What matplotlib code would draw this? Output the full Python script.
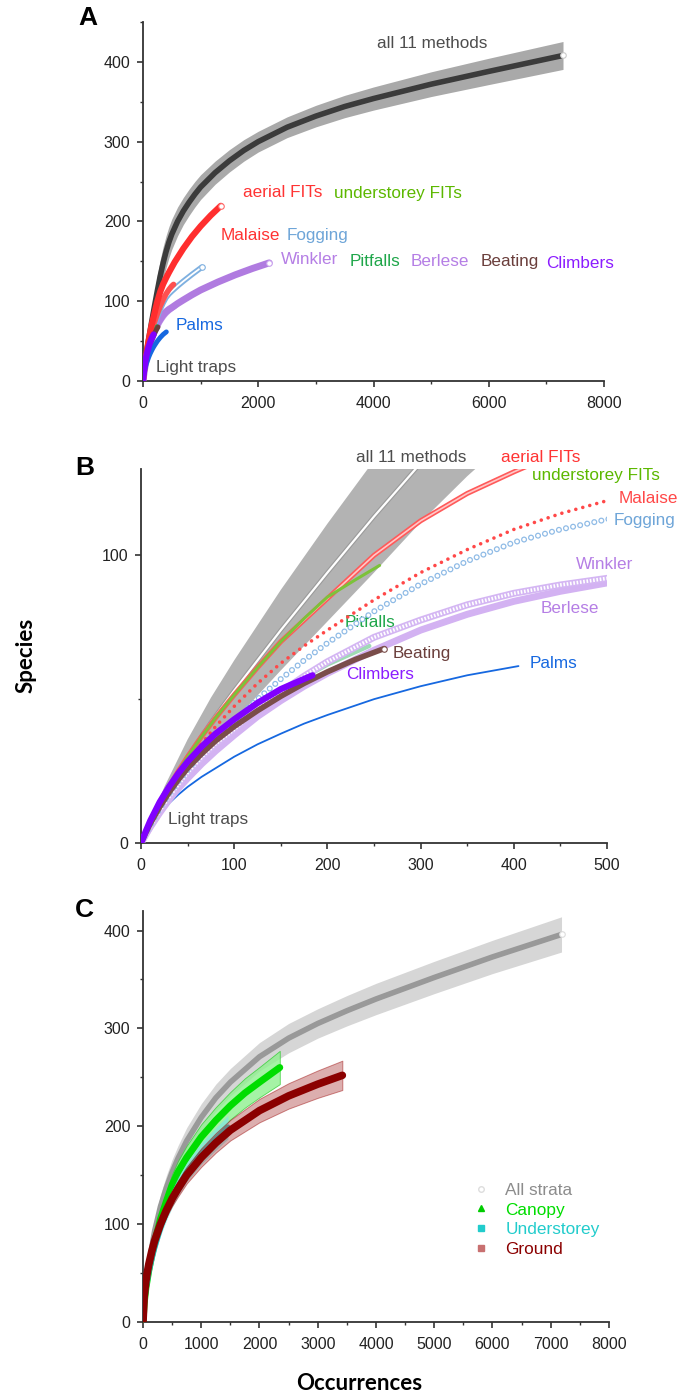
import numpy as np
import matplotlib
matplotlib.use('Agg')
import matplotlib.pyplot as plt
from matplotlib.ticker import MultipleLocator
from matplotlib.lines import Line2D

plt.rcParams['font.family'] = ['Liberation Sans', 'DejaVu Sans']
plt.rcParams['lines.scale_dashes'] = False
plt.rcParams['lines.solid_capstyle'] = 'round'

# ---- rarefaction curves (occurrences, species) ----
all_occ = [0, 25, 50, 75, 100, 150, 200, 250, 300, 350, 400, 450, 500, 600, 700, 800,
           900, 1000, 1250, 1500, 1750, 2000, 2500, 3000, 3500, 4000, 5000, 6000, 7288]
all_mid = [0, 16.5, 30, 42, 53, 74, 94, 113.5, 132, 148, 162, 174, 184, 200, 213, 224,
           234, 243, 261, 276, 289, 300, 318, 332, 344, 354, 372, 388, 408]
all_lo = [0, 13.5, 24, 33.5, 42.5, 60, 77, 94, 111.5, 127.5, 142, 154.5, 165, 182, 196,
          207.5, 218, 227.5, 246.5, 262, 275.5, 287, 305, 318.5, 330, 339.5, 356.5,
          371.5, 390.5]
all_hi = [0, 19.5, 36, 50.5, 63.5, 88, 111, 133, 152.5, 168.5, 182, 193.5, 203, 218,
          230, 240.5, 250, 258.5, 275.5, 290, 302.5, 313, 331, 345.5, 358, 368.5,
          387.5, 404.5, 425.5]

aerial_x = [0, 5, 10, 20, 30, 40, 50, 65, 80, 100, 125, 150, 175, 200, 250, 300, 350,
            400, 450, 550, 700, 850, 1000, 1175, 1350]
aerial_y = [0, 3.7, 7.2, 13.5, 19.5, 25, 30, 37, 43.5, 51.5, 61, 70, 77.5, 85, 100, 112,
            121.5, 129, 136, 149, 166, 181, 194, 207.5, 219.5]

undfits_x = [0, 5, 10, 20, 30, 40, 50, 65, 80, 100, 125, 150, 175, 200, 230, 256]
undfits_y = [0, 3.7, 7.2, 13.5, 19.5, 25, 30, 37, 43.5, 51.5, 61, 70, 78, 85.5, 91.5, 96.5]

malaise_x = [0, 5, 10, 20, 30, 40, 50, 65, 80, 100, 125, 150, 175, 200, 250, 300, 350,
             400, 450, 500, 530]
malaise_y = [0, 3.6, 7, 13, 18.5, 23.5, 28, 34.5, 40.5, 47.5, 55.5, 62.5, 68.5, 74, 84.5,
             94, 102, 109, 114.5, 119, 121]

fogging_x = [0, 5, 10, 20, 30, 40, 50, 65, 80, 100, 125, 150, 175, 200, 250, 300, 350,
             400, 450, 500, 600, 700, 850, 1018]
fogging_y = [0, 3.2, 6.3, 12, 17, 21.5, 25.5, 31, 36, 42.5, 50, 57, 63.5, 69.5, 80.5, 90,
             98, 104.5, 109, 112.5, 119, 125, 133.5, 142.5]

winkler_x = [0, 5, 10, 20, 30, 40, 50, 65, 80, 100, 125, 150, 175, 200, 250, 300, 350,
             400, 450, 500, 600, 700, 850, 1000, 1300, 1600, 1900, 2190]
winkler_y = [0, 3, 5.9, 11.2, 16, 20.3, 24.5, 29.8, 34.5, 39.5, 46.5, 52.5, 58, 63, 71.5,
             77.5, 82.8, 86.8, 89.7, 92, 97, 101.5, 108, 114, 124, 133, 141, 148]

berlese_x = [0, 5, 10, 20, 30, 40, 50, 65, 80, 100, 125, 150, 175, 200, 250, 300, 350,
             400, 450, 500, 560]
berlese_y = [0, 2.9, 5.6, 10.5, 15, 19, 22.5, 27.5, 32, 37.5, 44, 49.5, 54.5, 59, 67, 74,
             79.5, 84, 87.5, 90.4, 93.5]

pitfalls_x = [0, 5, 10, 20, 30, 40, 50, 65, 80, 100, 125, 150, 175, 200, 245]
pitfalls_y = [0, 3.5, 6.8, 12.5, 17.5, 22, 26, 31, 35.5, 41, 47, 52.5, 57.5, 62, 68.5]

beating_x = [0, 5, 10, 20, 30, 40, 50, 65, 80, 100, 125, 150, 175, 200, 230, 261]
beating_y = [0, 3.5, 6.8, 12.5, 17.5, 22, 26, 31, 35.5, 40.5, 46, 51, 55.5, 59.5, 63.8,
             67.6]

climbers_x = [0, 5, 10, 20, 30, 40, 50, 65, 80, 100, 125, 150, 184]
climbers_y = [0, 4, 7.8, 14.2, 19.5, 24.2, 28.3, 33.5, 38, 43, 48.7, 53.5, 58.3]

palms_x = [0, 5, 10, 20, 30, 40, 50, 65, 80, 100, 125, 150, 175, 200, 250, 300, 350, 405]
palms_y = [0, 3, 5.8, 10.2, 13.8, 16.8, 19.5, 23, 26, 30, 34.3, 38, 41.5, 44.5, 50, 54.5,
           58.3, 61.5]

light_x = [0, 5, 10, 20, 30, 40, 50, 65, 80, 100, 125, 140]
light_y = [0, 3.4, 6.6, 12.2, 17.1, 21.5, 25.4, 30.3, 34.7, 39.6, 45, 48]

# strata (panel C)
strata_occ = [0, 20, 50, 100, 150, 200, 300, 400, 500, 600, 750, 1000, 1250, 1500, 2000,
              2500, 3000, 3500, 4000, 5000, 6000, 7185]
strata_mid = [0, 20, 37, 58, 76, 93, 118, 137, 153, 167, 185, 209, 229, 245, 271, 290,
              305, 318, 330, 352, 373, 396]
strata_lo = [0, 17, 31, 50, 66.5, 82.5, 106, 124.5, 140, 154, 171.5, 195, 215, 231,
             256.5, 275, 290, 302.5, 314, 335.5, 356, 378]
strata_hi = [0, 23, 43, 66, 85.5, 103.5, 130, 149.5, 166, 180, 198.5, 223, 243, 259,
             285.5, 305, 320, 333.5, 346, 368.5, 390, 414]

canopy_occ = [0, 20, 50, 100, 150, 200, 300, 400, 500, 600, 750, 1000, 1250, 1500, 1750,
              2000, 2348]
canopy_mid = [0, 19, 35, 53, 68, 81, 105, 123, 140, 153, 168, 189, 206, 221, 234, 245, 260]
canopy_lo = [0, 16.5, 30.5, 47, 61, 73, 96, 113, 129, 141.5, 156, 176, 192.5, 207, 219,
             229.5, 243]
canopy_hi = [0, 21.5, 39.5, 59, 75, 89, 114, 133, 151, 164.5, 180, 202, 219.5, 235, 249,
             260.5, 277]

under_occ = [0, 20, 50, 100, 150, 200, 300, 400, 500, 600, 750, 1000, 1250, 1459]
under_mid = [0, 18.5, 34, 51, 64, 76, 96, 112, 126, 138, 153, 172, 187, 199]
under_lo = [0, 16, 30, 45.5, 57.5, 69, 88, 103.5, 117, 128.5, 143, 161, 175.5, 187]
under_hi = [0, 21, 38, 56.5, 70.5, 83, 104, 120.5, 135, 147.5, 163, 183, 198.5, 211]

ground_occ = [0, 20, 50, 75, 100, 150, 200, 300, 400, 500, 600, 750, 1000, 1250, 1500,
              2000, 2500, 3000, 3422]
ground_mid = [0, 26, 42, 51, 59, 72, 83, 100, 114, 126, 136, 150, 168, 183, 196, 216,
              231, 243, 252]
ground_lo = [0, 24, 38.5, 47, 54.5, 67, 77.5, 93.5, 107, 118.5, 128, 141.5, 158.5, 173,
             185.5, 204, 218, 229, 237]
ground_hi = [0, 28, 45.5, 55, 63.5, 77, 88.5, 106.5, 121, 133.5, 144, 158.5, 177.5, 193,
             206.5, 228, 244, 257, 267]

strata_labels = ['All strata', 'Canopy', 'Understorey', 'Ground']

GRAY_TXT = '#4d4d4d'
RED = '#ff3333'
YGREEN = '#5cb800'
BLUE_L = '#6ea5d8'
PURPLE_L = '#b57ee5'
GREEN = '#1fa64a'
BROWN = '#6b3f3c'
VIOLET = '#8b1cff'
BLUE = '#1668e0'

fig = plt.figure(figsize=(6.79, 13.98), dpi=100)
axA = fig.add_axes([0.2106, 0.7275, 0.679, 0.2568])
axB = fig.add_axes([0.2077, 0.397, 0.6863, 0.2675])
axC = fig.add_axes([0.2106, 0.0544, 0.6863, 0.294])


def style(ax, xmax, ymax, xmaj, xmin):
    ax.set_xlim(0, xmax)
    ax.set_ylim(0, ymax)
    for s in ['top', 'right']:
        ax.spines[s].set_visible(False)
    for s in ['left', 'bottom']:
        ax.spines[s].set_linewidth(1.3)
        ax.spines[s].set_color('#333333')
    ax.xaxis.set_major_locator(MultipleLocator(xmaj))
    ax.xaxis.set_minor_locator(MultipleLocator(xmin))
    ax.yaxis.set_major_locator(MultipleLocator(100))
    ax.yaxis.set_minor_locator(MultipleLocator(50))
    ax.tick_params(which='major', length=4, width=1.1, labelsize=11.5,
                   colors='#222222')
    ax.tick_params(axis='x', which='major', pad=6.5)
    ax.tick_params(axis='y', which='major', pad=5)
    ax.tick_params(which='minor', length=2.5, width=1.0, colors='#333333')


def end_dot(ax, xs, ys, ec):
    ax.plot(xs[-1:], ys[-1:], 'o', ms=4, mfc='white', mec=ec, mew=0.8, zorder=9)


# ---------------- panel A ----------------
style(axA, 8000, 450, 2000, 1000)
axA.fill_between(all_occ, all_lo, all_hi, color='#a9a9a9', lw=0, zorder=1)
axA.plot(all_occ, all_mid, color='#3b3b3b', lw=4, zorder=2)
end_dot(axA, all_occ, all_mid, '#cccccc')
axA.plot(light_x, light_y, color='#555555', lw=3, zorder=3)
axA.plot(berlese_x, berlese_y, color='#c9a2ee', lw=3.5, zorder=3)
axA.plot(winkler_x, winkler_y, color='#b07be0', lw=5, zorder=4)
end_dot(axA, winkler_x, winkler_y, '#c9a2ee')
axA.plot(fogging_x, fogging_y, color='#7eb0e0', lw=4, zorder=4)
axA.plot(fogging_x, fogging_y, color='white', lw=1.3, zorder=4)
end_dot(axA, fogging_x, fogging_y, '#7eb0e0')
axA.plot(malaise_x, malaise_y, color='#ff5050', lw=4, zorder=5)
axA.plot(pitfalls_x, pitfalls_y, color=GREEN, lw=3, zorder=5)
axA.plot(undfits_x, undfits_y, color='#6abf1f', lw=3, zorder=5)
axA.plot(aerial_x, aerial_y, color='#ff2e2e', lw=4.5, zorder=6)
end_dot(axA, aerial_x, aerial_y, '#ff6b6b')
axA.plot(beating_x, beating_y, color=BROWN, lw=3.5, zorder=6)
axA.plot(palms_x, palms_y, color=BLUE, lw=3.5, zorder=6)
axA.plot(climbers_x, climbers_y, color='#8000ff', lw=4.5, zorder=7)

fs = 12.3
axA.text(4060, 423, 'all 11 methods', color=GRAY_TXT, fontsize=fs, va='center')
axA.text(1730, 236, 'aerial FITs', color=RED, fontsize=fs, va='center')
axA.text(3310, 235, 'understorey FITs', color=YGREEN, fontsize=fs, va='center')
axA.text(1350, 182, 'Malaise', color=RED, fontsize=fs, va='center')
axA.text(2490, 182, 'Fogging', color=BLUE_L, fontsize=fs, va='center')
axA.text(2390, 152, 'Winkler', color=PURPLE_L, fontsize=fs, va='center')
axA.text(3580, 150, 'Pitfalls', color=GREEN, fontsize=fs, va='center')
axA.text(4640, 150, 'Berlese', color=PURPLE_L, fontsize=fs, va='center')
axA.text(5850, 150, 'Beating', color=BROWN, fontsize=fs, va='center')
axA.text(7000, 147, 'Climbers', color=VIOLET, fontsize=fs, va='center')
axA.text(560, 69, 'Palms', color=BLUE, fontsize=fs, va='center')
axA.text(225, 17, 'Light traps', color=GRAY_TXT, fontsize=fs, va='center')

# ---------------- panel B ----------------
style(axB, 500, 130, 100, 50)
axB.fill_between(all_occ, all_lo, all_hi, color='#b3b3b3', lw=0, zorder=1)
axB.plot(all_occ, all_mid, color='#9a9a9a', lw=3.2, zorder=2)
axB.plot(all_occ, all_mid, color='white', lw=1.6, zorder=2)
axB.plot(light_x, light_y, color='#4f5a4f', lw=2, zorder=3)
axB.plot(palms_x, palms_y, color=BLUE, lw=1.3, zorder=3)
axB.plot(pitfalls_x, pitfalls_y, color='#9edbb4', lw=3, zorder=3)
axB.plot(berlese_x, berlese_y, color='#d3b2f2', lw=5, zorder=3)
axB.plot(winkler_x, winkler_y, color='#d4b6f3', lw=5, zorder=4)
axB.plot(winkler_x, winkler_y, color='white', lw=2.6, ls=(0, (1.2, 1.2)),
         solid_capstyle='butt', zorder=4)
axB.plot(fogging_x, fogging_y, color='#8fbbe6', lw=4.4, ls=(0, (0.01, 5.2)),
         dash_capstyle='round', zorder=4)
axB.plot(fogging_x, fogging_y, color='white', lw=2.6, ls=(0, (0.01, 5.2)),
         dash_capstyle='round', zorder=4)
axB.plot(malaise_x, malaise_y, color='#ff4848', lw=2.6, ls=(0, (0.01, 5.2)),
         dash_capstyle='round', zorder=5)
axB.plot(aerial_x, aerial_y, color='#ff5a5a', lw=3.6, zorder=5)
axB.plot(aerial_x, aerial_y, color='#ffc8c8', lw=1.2, zorder=5)
axB.plot(undfits_x, undfits_y, color='#7cc23a', lw=2.2, zorder=6)
axB.plot(beating_x, beating_y, color='#7a4d4a', lw=4, zorder=6)
end_dot(axB, beating_x, beating_y, '#7a4d4a')
axB.plot(climbers_x, climbers_y, color='#8000ff', lw=4.5, zorder=7)

axB.text(231, 134, 'all 11 methods', color=GRAY_TXT, fontsize=fs, va='center')
axB.text(386, 134, 'aerial FITs', color=RED, fontsize=fs, va='center')
axB.text(419, 127.7, 'understorey FITs', color=YGREEN, fontsize=fs, va='center')
axB.text(512, 119.6, 'Malaise', color='#ff4848', fontsize=fs, va='center')
axB.text(507, 112.1, 'Fogging', color=BLUE_L, fontsize=fs, va='center')
axB.text(467, 96.8, 'Winkler', color=PURPLE_L, fontsize=fs, va='center')
axB.text(429, 81.5, 'Berlese', color=PURPLE_L, fontsize=fs, va='center')
axB.text(218, 76.6, 'Pitfalls', color=GREEN, fontsize=fs, va='center')
axB.text(270, 66, 'Beating', color=BROWN, fontsize=fs, va='center')
axB.text(417, 62.5, 'Palms', color=BLUE, fontsize=fs, va='center')
axB.text(220, 58.5, 'Climbers', color=VIOLET, fontsize=fs, va='center')
axB.text(29, 8, 'Light traps', color=GRAY_TXT, fontsize=fs, va='center')

# ---------------- panel C ----------------
style(axC, 8000, 420, 1000, 500)
axC.fill_between(strata_occ, strata_lo, strata_hi, color='#d6d6d6', lw=0, zorder=1)
axC.plot(strata_occ, strata_mid, color='#999999', lw=4, zorder=2)
end_dot(axC, strata_occ, strata_mid, '#dddddd')
axC.fill_between(canopy_occ, canopy_lo, canopy_hi, color='#8ff08f', alpha=0.8,
                 edgecolor='#33cc33', lw=0.6, zorder=3)
axC.plot(canopy_occ, canopy_mid, color='#00dd00', lw=5, zorder=4)
axC.fill_between(under_occ, under_lo, under_hi, color='#7fe6e6', alpha=0.7,
                 lw=0, zorder=5)
axC.plot(under_occ, under_mid, color='#22b8b8', lw=4, zorder=5)
axC.fill_between(ground_occ, ground_lo, ground_hi, color='#b34d4d', alpha=0.45,
                 edgecolor='#990000', lw=0.7, zorder=6)
axC.plot(ground_occ, ground_mid, color='#8b0000', lw=5.5, zorder=7)

handles = [Line2D([], [], ls='', marker='o', ms=4, mfc='white', mec='#dddddd'),
           Line2D([], [], ls='', marker='^', ms=5, color='#00cc00'),
           Line2D([], [], ls='', marker='s', ms=4, color='#22cccc'),
           Line2D([], [], ls='', marker='s', ms=4.5, color='#c87070')]
axC.legend(handles, strata_labels, loc='upper left', bbox_to_anchor=(0.691, 0.355),
           frameon=False, fontsize=12.4, handlelength=1.0, handletextpad=0.95,
           labelspacing=0.26, borderaxespad=0,
           labelcolor=['#8c8c8c', '#00dd00', '#22cccc', '#8b0000'])

# panel letters and axis titles
for lab, (px, py) in zip(['A', 'B', 'C'], [(88, 18), (85, 468), (84, 910)]):
    fig.text(px / 679, 1 - py / 1398, lab, fontsize=19, fontweight='bold',
             ha='center', va='center')
fig.text(26 / 679, 1 - 655 / 1398, 'Species', rotation=90, fontsize=16,
         fontweight='bold', family=['Lato', 'DejaVu Sans'], ha='center', va='center')
fig.text(359 / 679, 1 - 1384 / 1398, 'Occurrences', fontsize=16, fontweight='bold',
         family=['Lato', 'DejaVu Sans'], ha='center', va='center')

fig.savefig('out.png', dpi=100)
